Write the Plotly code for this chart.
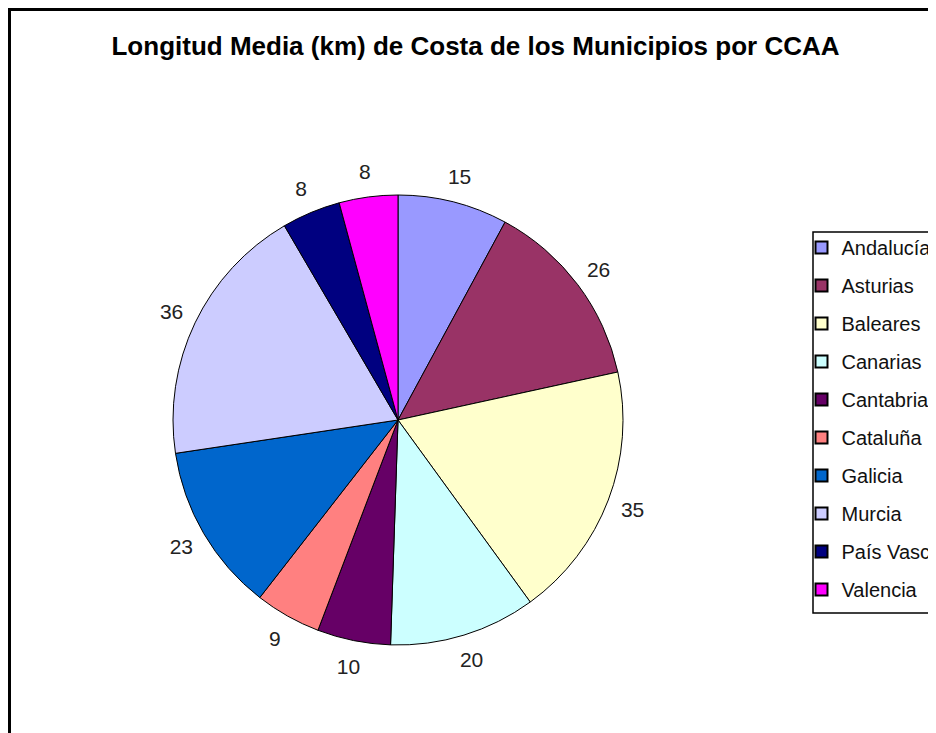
import plotly.graph_objects as go

# The page body adds an 8px offset, so the figure is 8px smaller than the window
W, H = 928, 725

categories = ["Andalucía", "Asturias", "Baleares", "Canarias", "Cantabria",
              "Cataluña", "Galicia", "Murcia", "País Vasco", "Valencia"]
values = [15, 26, 35, 20, 10, 9, 23, 36, 8, 8]
colors = ["#9999FF", "#993366", "#FFFFCC", "#CCFFFF", "#660066",
          "#FF8080", "#0066CC", "#CCCCFF", "#000080", "#FF00FF"]
title_text = "Longitud Media (km) de Costa de los Municipios por CCAA"

FONT = "Liberation Sans, Arial, sans-serif"

fig = go.Figure()

# pie centre and radius in figure pixels
cx, cy, r = 390, 412, 225
# label ring: labels sit in the middle of a transparent ring outside the pie
R = 277


def dom(rad):
    return dict(x=[(cx - rad) / W, (cx + rad) / W],
                y=[(H - cy - rad) / H, (H - cy + rad) / H])


fig.add_trace(go.Pie(
    labels=categories, values=values, sort=False, direction="clockwise",
    rotation=0,
    marker=dict(colors=colors, line=dict(color="black", width=1)),
    textinfo="none",
    domain=dom(r),
    showlegend=False, hoverinfo="label+value",
))

fig.add_trace(go.Pie(
    labels=categories, values=values, sort=False, direction="clockwise",
    rotation=0, hole=r / R,
    marker=dict(colors=["rgba(0,0,0,0)"] * len(values),
                line=dict(color="rgba(0,0,0,0)", width=0)),
    textposition="inside", insidetextorientation="horizontal",
    texttemplate="%{value}",
    textfont=dict(family=FONT, size=21, color="#222222"),
    domain=dom(R),
    showlegend=False, hoverinfo="skip",
))

# legend entries (one group per category for the wide spacing)
for i, (c, col) in enumerate(zip(categories, colors)):
    fig.add_trace(go.Scatter(
        x=[None], y=[None], mode="markers", name=c,
        legendgroup=f"g{i}",
        marker=dict(symbol="square", size=10, color=col,
                    line=dict(color="black", width=1)),
        hoverinfo="skip",
    ))

fig.update_layout(
    width=W, height=H,
    margin=dict(l=0, r=0, t=0, b=0, autoexpand=False),
    paper_bgcolor="white", plot_bgcolor="white",
    xaxis=dict(visible=False), yaxis=dict(visible=False),
    title=dict(text=title_text, x=467.5 / W, xanchor="center",
               y=1 - 38 / H, yanchor="middle",
               font=dict(family=FONT, size=26, color="black", weight="bold")),
    legend=dict(x=793.5 / W, xanchor="left", y=1 - 220 / H, yanchor="top",
                font=dict(family=FONT, size=20, color="#111111"),
                tracegroupgap=9, bgcolor="rgba(0,0,0,0)",
                borderwidth=0, itemsizing="constant"),
    shapes=[
        # outer chart frame
        dict(type="rect", xref="paper", yref="paper",
             x0=1.5 / W, x1=1.2, y0=-0.2, y1=1 - 1.5 / H,
             line=dict(color="black", width=3), fillcolor="rgba(0,0,0,0)"),
        # legend box
        dict(type="rect", xref="paper", yref="paper",
             x0=805 / W, x1=1.2, y0=1 - 605 / H, y1=1 - 224 / H,
             line=dict(color="black", width=1.5), fillcolor="rgba(0,0,0,0)"),
    ],
)

fig.write_html("out.html")
